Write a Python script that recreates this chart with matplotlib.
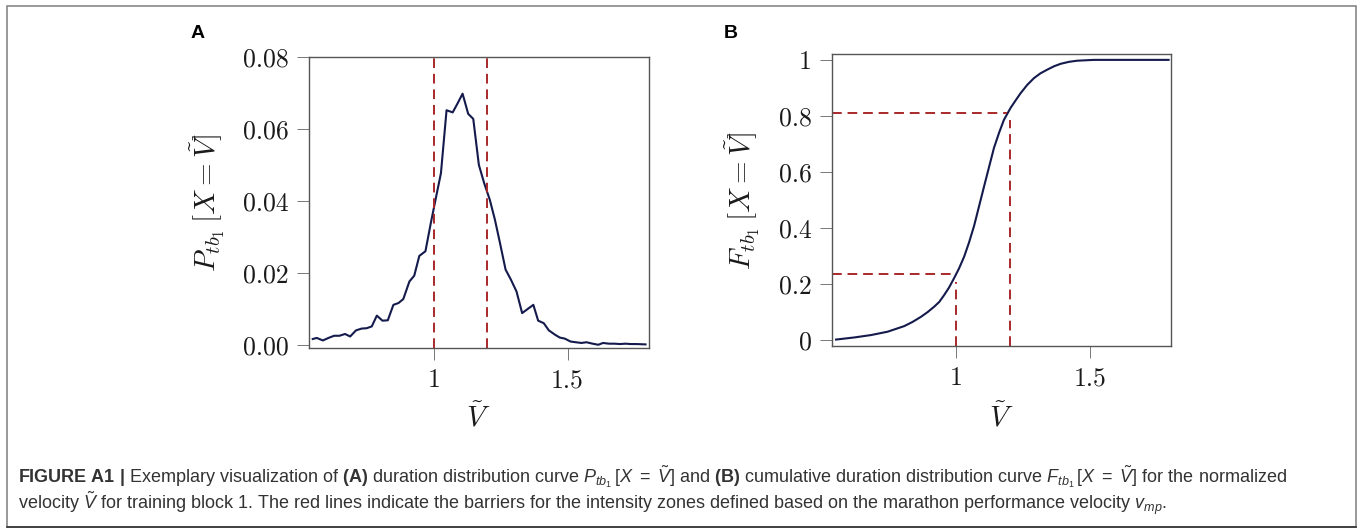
import numpy as np
import matplotlib
matplotlib.use("Agg")
import matplotlib.pyplot as plt
from matplotlib.patches import Rectangle

plt.rcParams['mathtext.fontset'] = 'custom'
plt.rcParams['mathtext.rm'] = 'Liberation Sans'
plt.rcParams['mathtext.it'] = 'Liberation Sans:italic'
plt.rcParams['mathtext.bf'] = 'Liberation Sans:bold'

# duration distribution, panel A
v_pdf = [0.546, 0.561, 0.584, 0.605, 0.626, 0.646, 0.667, 0.686, 0.708, 0.729,
         0.748, 0.767, 0.786, 0.807, 0.827, 0.848, 0.867, 0.885, 0.908, 0.926,
         0.945, 0.968, 0.988, 1.007, 1.026, 1.047, 1.070, 1.089, 1.107, 1.128,
         1.147, 1.168, 1.188, 1.209, 1.228, 1.247, 1.268, 1.288, 1.309, 1.330,
         1.350, 1.372, 1.390, 1.411, 1.430, 1.453, 1.471, 1.490, 1.511, 1.531,
         1.552, 1.571, 1.594, 1.615, 1.633, 1.655, 1.675, 1.696, 1.717, 1.736,
         1.758, 1.792]
p_pdf = [0.0016, 0.0019, 0.0012, 0.0019, 0.0025, 0.0025, 0.0030, 0.0023, 0.0040, 0.0045,
         0.0046, 0.0051, 0.0081, 0.0067, 0.0068, 0.0111, 0.0116, 0.0127, 0.0176, 0.0192,
         0.0247, 0.0260, 0.0338, 0.0408, 0.0477, 0.0652, 0.0646, 0.0672, 0.0698, 0.0642,
         0.0628, 0.0500, 0.0449, 0.0403, 0.0348, 0.0283, 0.0209, 0.0181, 0.0148, 0.0088,
         0.0099, 0.0111, 0.0067, 0.0060, 0.0040, 0.0028, 0.0020, 0.0017, 0.0009, 0.0007,
         0.0005, 0.0007, 0.0003, 0.0000, 0.0005, 0.0003, 0.0003, 0.0002, 0.0003, 0.0002,
         0.0002, 0.0001]

# cumulative distribution, panel B
v_cdf = [0.553, 0.621, 0.683, 0.745, 0.807, 0.838, 0.869, 0.894, 0.918, 0.937,
         0.955, 0.974, 0.993, 1.011, 1.030, 1.048, 1.067, 1.085, 1.104, 1.123,
         1.141, 1.160, 1.178, 1.203, 1.222, 1.240, 1.265, 1.290, 1.314, 1.339,
         1.364, 1.389, 1.420, 1.450, 1.512, 1.791]
f_cdf = [0.002, 0.0095, 0.018, 0.030, 0.050, 0.065, 0.083, 0.100, 0.119, 0.136,
         0.160, 0.188, 0.222, 0.256, 0.298, 0.348, 0.408, 0.476, 0.548, 0.619,
         0.686, 0.740, 0.786, 0.829, 0.856, 0.881, 0.911, 0.935, 0.952, 0.965,
         0.977, 0.986, 0.993, 0.997, 1.0, 1.0]

barriers = [1.0, 1.2]
f_at_barriers = [0.235, 0.81]
f_vline_top = [0.208, 0.786]

xticks = [1, 1.5]
xticklabels = ['1', '1.5']
yticks_a = [0, 0.02, 0.04, 0.06, 0.08]
yticklabels_a = ['0.00', '0.02', '0.04', '0.06', '0.08']
yticks_b = [0, 0.2, 0.4, 0.6, 0.8, 1]
yticklabels_b = ['0', '0.2', '0.4', '0.6', '0.8', '1']

navy = '#141a4c'
red = '#a8282a'
ink = '#1a1a1a'
W, H = 1361, 528

fig = plt.figure(figsize=(W / 100, H / 100), dpi=100)
axA = fig.add_axes([309 / W, (H - 348) / H, 340 / W, 291 / H])
axB = fig.add_axes([832 / W, (H - 346) / H, 339 / W, 292 / H])

def style(ax, yt, ytl):
    for s in ax.spines.values():
        s.set_color('#555555')
        s.set_linewidth(1.0)
    ax.set_xticks(xticks)
    ax.set_xticklabels(xticklabels, fontfamily='cmr10', fontsize=18.5)
    ax.set_yticks(yt)
    ax.set_yticklabels(ytl, fontfamily='cmr10', fontsize=18.5)
    ax.tick_params(direction='out', length=8.6, width=0.7, color='#777777', pad=6,
                   labelcolor=ink)

# panel A
axA.plot(v_pdf, p_pdf, color=navy, lw=1.5)
for b in barriers:
    axA.axvline(b, color=red, lw=1.4, dashes=(5, 3))
axA.set_xlim(0.532, 1.805)
axA.set_ylim(-0.0009, 0.08)
style(axA, yticks_a, yticklabels_a)

# panel B
axB.plot(v_cdf, f_cdf, color=navy, lw=1.5)
xminB, yminB = 0.538, -0.021
for b, fb, ft in zip(barriers, f_at_barriers, f_vline_top):
    axB.plot([xminB, b - 0.012], [fb, fb], color=red, lw=1.4, dashes=(5, 3))
    axB.plot([b, b], [yminB, ft], color=red, lw=1.4, dashes=(5, 3))
axB.set_xlim(xminB, 1.80)
axB.set_ylim(yminB, 1.021)
style(axB, yticks_b, yticklabels_b)

# axis labels
fig.text(208 / W, 1 - 203 / H, r'$P_{tb_1}\,[X = \tilde{V}]$', rotation=90,
         ha='center', va='center', fontsize=21, math_fontfamily='cm', color=ink)
fig.text(743 / W, 1 - 200 / H, r'$F_{tb_1}\,[X = \tilde{V}]$', rotation=90,
         ha='center', va='center', fontsize=21, math_fontfamily='cm', color=ink)
fig.text(478 / W, 1 - 418 / H, r'$\tilde{V}$', ha='center', va='center',
         fontsize=21, math_fontfamily='cm', color=ink)
fig.text(1001 / W, 1 - 418 / H, r'$\tilde{V}$', ha='center', va='center',
         fontsize=21, math_fontfamily='cm', color=ink)

# panel letters
fig.text(198 / W, 1 - 33 / H, 'A', ha='center', va='center', fontsize=14,
         fontweight='bold', family='Liberation Sans')
fig.text(731 / W, 1 - 33 / H, 'B', ha='center', va='center', fontsize=14,
         fontweight='bold', family='Liberation Sans')

# caption
line1 = (r'$\mathbf{FIGURE\ A1\ |}$ Exemplary visualization of $\mathbf{(A)}$ duration '
         r'distribution curve $P_{tb_1}\,[X\ =\ \tilde{V}]$ and $\mathbf{(B)}$ cumulative '
         r'duration distribution curve $F_{tb_1}\,[X\ =\ \tilde{V}]$ for the normalized')
line2 = (r'velocity $\tilde{V}$ for training block 1. The red lines indicate the barriers '
         r'for the intensity zones defined based on the marathon performance velocity $v_{mp}$.')
fig.text(18 / W, 1 - 477 / H, line1, ha='left', va='center', fontsize=13,
         family='Liberation Sans', color='#333333')
fig.text(18 / W, 1 - 503 / H, line2, ha='left', va='center', fontsize=13,
         family='Liberation Sans', color='#333333')

# outer box
fig.patches.append(Rectangle((6.5 / W, 1.5 / H), 1349.5 / W, 521 / H, transform=fig.transFigure,
                             fill=False, edgecolor='#888888', lw=1.2))
fig.lines.append(plt.Line2D([6.5 / W, 1356 / W], [1.5 / H, 1.5 / H], transform=fig.transFigure,
                            color='#333333', lw=1.2))

fig.savefig('out.png', dpi=100)
